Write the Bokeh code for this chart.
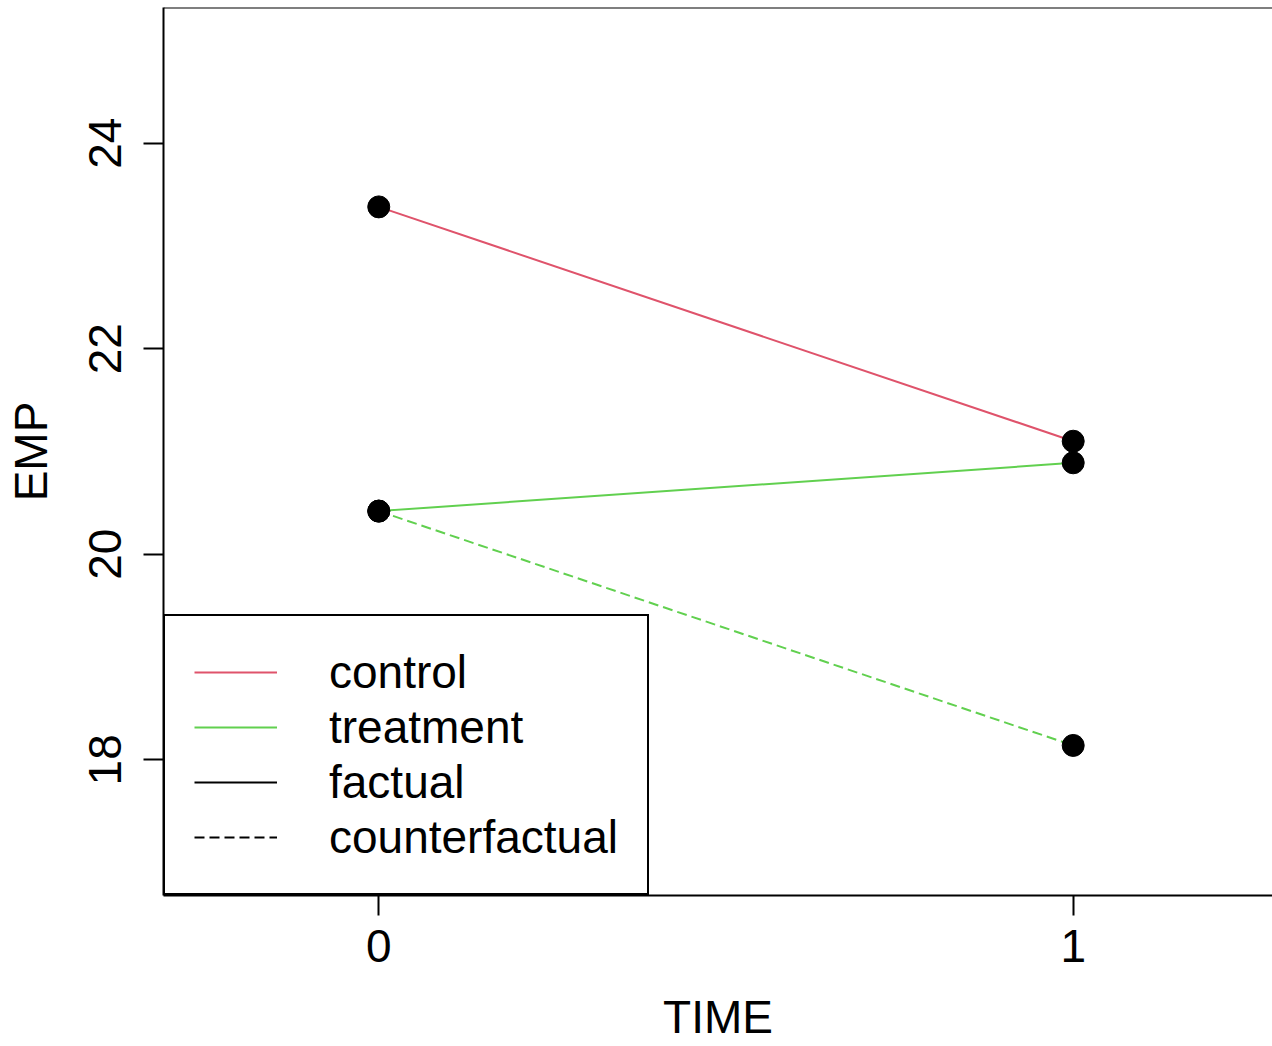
from bokeh.plotting import figure
from bokeh.models import Range1d, FixedTicker, Legend, LegendItem, Span
from bokeh.embed import file_html
from bokeh.resources import INLINE

# data
time = [0, 1]
control = [23.38, 21.10]
treatment = [20.42, 20.89]
counterfactual = [20.42, 18.14]
x_ticks = [0, 1]
y_ticks = [18, 20, 22, 24]

RED = "#DF536B"
GREEN = "#61D04F"
FONT = "Liberation Sans"
FS = "46px"
NAN = float("nan")

p = figure(width=1272, height=1046, output_backend="svg", toolbar_location=None,
           x_range=Range1d(-0.31, 1.287), y_range=Range1d(16.68, 25.32),
           min_border_left=163, min_border_right=0, min_border_top=7, min_border_bottom=151)
p.grid.visible = False
p.outline_line_color = None
p.background_fill_color = "white"
p.border_fill_color = "white"

r_ctrl = p.line(time, control, line_color=RED, line_width=2)
r_trt = p.line(time, treatment, line_color=GREEN, line_width=2)
r_cf = p.line(time, counterfactual, line_color=GREEN, line_width=2, line_dash="10 5")
for ys in (control, treatment, counterfactual):
    p.scatter(time, ys, size=22, color="black")

r_fact = p.line([NAN], [NAN], line_color="black", line_width=2)
r_cfl = p.line([NAN], [NAN], line_color="black", line_width=2, line_dash="10 5")

p.add_layout(Span(location=25.32, dimension="width", line_color="black", line_width=2))

for ax in (p.xaxis[0], p.yaxis[0]):
    ax.axis_line_color = "black"
    ax.axis_line_width = 2
    ax.major_tick_line_width = 2
    ax.major_tick_out = 20
    ax.major_tick_in = 0
    ax.minor_tick_out = 0
    ax.minor_tick_in = 0
    ax.major_label_text_font = FONT
    ax.major_label_text_font_size = FS
    ax.major_label_text_color = "black"
    ax.axis_label_text_font = FONT
    ax.axis_label_text_font_size = FS
    ax.axis_label_text_font_style = "normal"
    ax.axis_label_text_color = "black"

p.xaxis.ticker = FixedTicker(ticks=x_ticks)
p.yaxis.ticker = FixedTicker(ticks=y_ticks)
p.xaxis.axis_label = "TIME"
p.yaxis.axis_label = "EMP"
p.yaxis.major_label_orientation = "vertical"
p.xaxis.major_label_standoff = 14
p.yaxis.major_label_standoff = 22
p.xaxis.axis_label_standoff = 26
p.xaxis.axis_label_text_line_height = 0.85
p.yaxis.axis_label_standoff = 30

legend = Legend(items=[
    LegendItem(label="control", renderers=[r_ctrl]),
    LegendItem(label="treatment", renderers=[r_trt]),
    LegendItem(label="factual", renderers=[r_fact]),
    LegendItem(label="counterfactual", renderers=[r_cfl]),
], location=(0, 0))
legend.label_text_font = FONT
legend.label_text_font_size = FS
legend.label_text_color = "black"
legend.glyph_width = 83
legend.glyph_height = 46
legend.label_height = 46
legend.label_standoff = 52
legend.spacing = 1
legend.padding = 29
legend.margin = 0
legend.border_line_color = "black"
legend.border_line_alpha = 1
legend.border_line_width = 2
legend.background_fill_alpha = 1
legend.background_fill_color = "white"
p.add_layout(legend, "center")

open("out.html", "w").write(file_html(p, INLINE))
